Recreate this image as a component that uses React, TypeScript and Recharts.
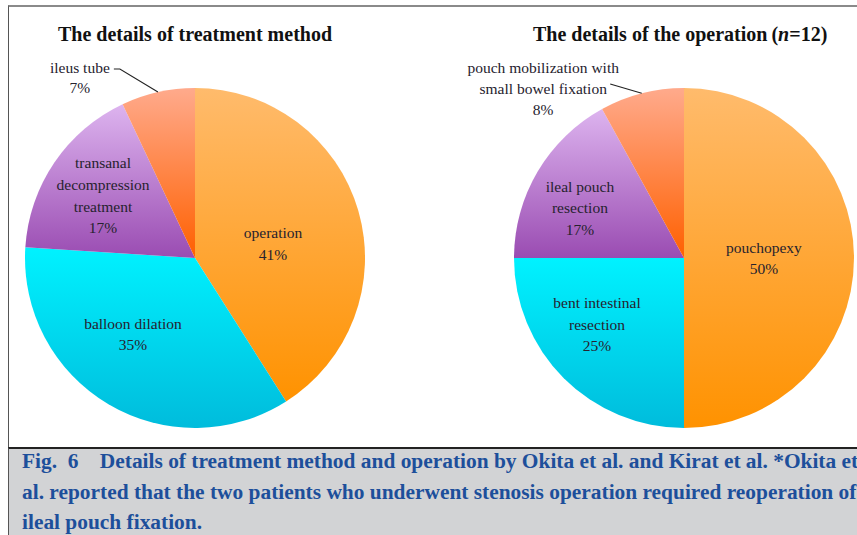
import React from "react";
import { PieChart, Pie, Cell } from "recharts";

// ---- data ----
const treatmentCategories = ["operation", "balloon dilation", "transanal decompression treatment", "ileus tube"];
const treatmentValues = [41, 35, 17, 7];
const treatmentLabelLines = [["operation"], ["balloon dilation"], ["transanal", "decompression", "treatment"], ["ileus tube"]];

const operationCategories = ["pouchopexy", "bent intestinal resection", "ileal pouch resection", "pouch mobilization with small bowel fixation"];
const operationValues = [50, 25, 17, 8];
const operationLabelLines = [["pouchopexy"], ["bent intestinal", "resection"], ["ileal pouch", "resection"], ["pouch mobilization with", "small bowel fixation"]];

const titleTreatment = "The details of treatment method";
const titleOperation = "The details of the operation";
const titleOperationN = "12";

const captionLines = [
  "Fig.  6    Details of treatment method and operation by Okita et al. and Kirat et al. *Okita et",
  "al. reported that the two patients who underwent stenosis operation required reoperation of",
  "ileal pouch fixation.",
];

// ---- styles ----
const gradients = [
  { id: "gOrange", top: "#ffbb6c", bottom: "#ff9200" },
  { id: "gCyan", top: "#00f2ff", bottom: "#00bcdc" },
  { id: "gPurple", top: "#ddb4ef", bottom: "#9a4cb2" },
  { id: "gSalmon", top: "#ffaa8c", bottom: "#ff6000" },
];

type LabelCfg = { k: number; shift: number; lh: number; leader?: [number, number, number] };

const treatmentLabelCfg: LabelCfg[] = [
  { k: 0.467, shift: -5.7, lh: 21.5 },
  { k: 0.577, shift: -8.6, lh: 21.5 },
  { k: 0.654, shift: 0, lh: 21.7 },
  { k: 1.257, shift: 20, lh: 20, leader: [34, 40, -9] },
];
const operationLabelCfg: LabelCfg[] = [
  { k: 0.47, shift: 0, lh: 21.5 },
  { k: 0.644, shift: -7.6, lh: 21.5 },
  { k: 0.68, shift: 4.8, lh: 21.5 },
  { k: 1.294, shift: 25.4, lh: 21, leader: [67, 67, -5] },
];

const RAD = Math.PI / 180;
const labelFont = "'Liberation Serif', 'Times New Roman', serif";

function makeLabel(linesArr: string[][], cfg: LabelCfg[]) {
  return (props: any) => {
    const { cx, cy, midAngle, outerRadius, index, value } = props;
    const c = cfg[index];
    const a = (midAngle + c.shift) * RAD;
    const r = outerRadius * c.k;
    const x = cx + r * Math.cos(a);
    const y = cy - r * Math.sin(a);
    const lines = [...linesArr[index], `${value}%`];
    const top = y - ((lines.length - 1) * c.lh) / 2;
    let leader = null;
    if (c.leader) {
      const ex = cx + outerRadius * Math.cos(midAngle * RAD);
      const ey = cy - outerRadius * Math.sin(midAngle * RAD);
      const [x0, x1, dy] = c.leader;
      leader = (
        <polyline
          points={`${x + x0},${y + dy} ${x + x1},${y + dy} ${ex},${ey}`}
          fill="none"
          stroke="#222"
          strokeWidth={1.1}
        />
      );
    }
    return (
      <g key={`lbl-${index}`}>
        {leader}
        <text
          x={x}
          y={top}
          textAnchor="middle"
          fill="#26222e"
          style={{ fontFamily: labelFont, fontSize: 15.5 }}
        >
          {lines.map((l, i) => (
            <tspan key={i} x={x} y={top + i * c.lh} dy="0.35em" style={{ fontFamily: labelFont }}>
              {l}
            </tspan>
          ))}
        </text>
      </g>
    );
  };
}

const treatmentData = treatmentCategories.map((name, i) => ({ name, value: treatmentValues[i] }));
const operationData = operationCategories.map((name, i) => ({ name, value: operationValues[i] }));

export default function App() {
  return (
    <div style={{ position: "absolute", left: 0, top: 0, width: 857, height: 535, background: "#fff", overflow: "hidden" }}>
      {/* panel frame */}
      <div style={{ position: "absolute", left: 8, top: 5, width: 860, height: 440, borderTop: "2px solid #8a8a8a", borderLeft: "1px solid #555" }} />
      <div style={{ position: "absolute", left: 8, top: 447, width: 860, height: 88, background: "#d2d3d5", borderTop: "2px solid #222", borderLeft: "1px solid #555" }} />
      <div style={{ position: "absolute", left: 0, top: 0 }}>
        <PieChart width={857} height={447} margin={{ top: 0, right: 0, bottom: 0, left: 0 }}>
          <defs>
            {gradients.map((g) => (
              <linearGradient key={g.id} id={g.id} x1="0" y1="0" x2="0" y2="1">
                <stop offset="0%" stopColor={g.top} />
                <stop offset="100%" stopColor={g.bottom} />
              </linearGradient>
            ))}
          </defs>
          <Pie
            data={treatmentData}
            dataKey="value"
            nameKey="name"
            cx={195}
            cy={258}
            outerRadius={170}
            startAngle={90}
            endAngle={-270}
            stroke="none"
            isAnimationActive={false}
            labelLine={false}
            label={makeLabel(treatmentLabelLines, treatmentLabelCfg)}
          >
            {treatmentData.map((d, i) => (
              <Cell key={d.name} fill={`url(#${gradients[i].id})`} />
            ))}
          </Pie>
          <Pie
            data={operationData}
            dataKey="value"
            nameKey="name"
            cx={684}
            cy={258}
            outerRadius={170}
            startAngle={90}
            endAngle={-270}
            stroke="none"
            isAnimationActive={false}
            labelLine={false}
            label={makeLabel(operationLabelLines, operationLabelCfg)}
          >
            {operationData.map((d, i) => (
              <Cell key={d.name} fill={`url(#${gradients[i].id})`} />
            ))}
          </Pie>
        </PieChart>
      </div>
      <svg width={857} height={535} style={{ position: "absolute", left: 0, top: 0, pointerEvents: "none" }}>
        <g fontFamily={labelFont} fontWeight="bold" fontSize={20} fill="#111">
          <text x={58} y={41}>{titleTreatment}</text>
          <text x={533} y={41}>
            {titleOperation}
            <tspan dx={4}>(</tspan>
            <tspan fontStyle="italic">n</tspan>={titleOperationN})
          </text>
        </g>
        <g fontFamily={labelFont} fontWeight="bold" fontSize={21.4} fill="#1d4f9b">
          {captionLines.map((l, i) => (
            <text key={i} x={22} y={468 + i * 30.5} xmlSpace="preserve" style={{ whiteSpace: "pre" }}>{l}</text>
          ))}
        </g>
      </svg>
    </div>
  );
}
